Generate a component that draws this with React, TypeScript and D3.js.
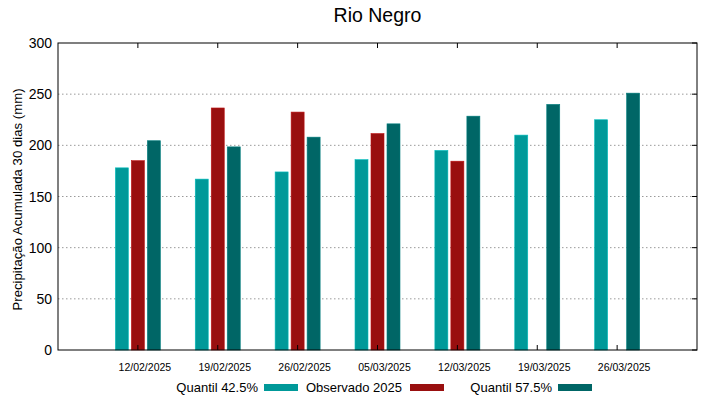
import React, { useEffect } from 'react';
import * as d3 from 'd3';

const dates = ['12/02/2025', '19/02/2025', '26/02/2025', '05/03/2025', '12/03/2025', '19/03/2025', '26/03/2025'];
const quantil425 = [178, 167, 174, 186, 195, 210, 225];
const observado = [185, 236.5, 232.5, 211.5, 184.5, null, null];
const quantil575 = [204.5, 198.5, 208, 221, 228.5, 240, 251];
const yTicks = [0, 50, 100, 150, 200, 250, 300];

const series = [
  { name: 'Quantil 42.5%', values: quantil425, color: '#009999', offset: -16 },
  { name: 'Observado 2025', values: observado, color: '#990f0f', offset: 0 },
  { name: 'Quantil 57.5%', values: quantil575, color: '#006666', offset: 16 },
];

const width = 719;
const height = 399;
const margin = { top: 43, right: 22, bottom: 49, left: 58 };
const font = '"Liberation Sans", Arial, sans-serif';

export default function App() {
  useEffect(() => {
    document.body.style.margin = '0';
  }, []);

  const innerW = width - margin.left - margin.right;
  const innerH = height - margin.top - margin.bottom;
  const xScale = d3.scaleLinear().domain([0, dates.length + 1]).range([0, innerW]);
  const yScale = d3.scaleLinear().domain([0, 300]).range([innerH, 0]);
  const barW = 13;

  // legend: where each label ends and its swatch starts
  const legendItems = [
    { textEnd: 258, swatch: 264 },
    { textEnd: 402, swatch: 410 },
    { textEnd: 552, swatch: 558 },
  ];

  return (
    <svg width={width} height={height} style={{ display: 'block', background: '#fff' }} fontFamily={font}>
      <text x={margin.left + innerW / 2} y={22} textAnchor="middle" fontSize={19.5} fill="#000">Rio Negro</text>
      <g transform={`translate(${margin.left},${margin.top})`}>
        {yTicks.filter((t) => t > 0 && t < 300).map((t) => (
          <line key={`g${t}`} x1={0} x2={innerW} y1={yScale(t)} y2={yScale(t)}
            stroke="#9a9a9a" strokeWidth={1} strokeDasharray="1.5,2.5" />
        ))}
        {series.map((s) => (
          <g key={s.name}>
            {s.values.map((v, i) => (v == null ? null : (
              <rect key={i}
                x={xScale(i + 1) + s.offset - barW / 2}
                y={yScale(v)}
                width={barW}
                height={innerH - yScale(v)}
                fill={s.color}
                stroke={d3.color(s.color)!.brighter(0.6).toString()}
                strokeWidth={0.6}
              />
            )))}
          </g>
        ))}
        {dates.map((d, i) => (
          <g key={d}>
            <line x1={xScale(i + 1)} x2={xScale(i + 1)} y1={0} y2={5} stroke="#000" />
            <line x1={xScale(i + 1)} x2={xScale(i + 1)} y1={innerH} y2={innerH - 5} stroke="#000" />
            <text x={xScale(i + 1) + 7} y={innerH + 21} textAnchor="middle" fontSize={10.5} fill="#000">{d}</text>
          </g>
        ))}
        {yTicks.map((t) => (
          <g key={t}>
            <line x1={innerW} x2={innerW - 5} y1={yScale(t)} y2={yScale(t)} stroke="#000" />
            <text x={-6} y={yScale(t) + 5} textAnchor="end" fontSize={14} fill="#000">{t}</text>
          </g>
        ))}
        <rect x={0} y={0} width={innerW} height={innerH} fill="none" stroke="#000" strokeWidth={1} />
      </g>
      <text transform={`translate(22,${margin.top + innerH / 2 + 3}) rotate(-90)`} textAnchor="middle" fontSize={13.2} fill="#000">
        Precipitação Acumulada 30 dias (mm)
      </text>
      {series.map((s, i) => (
        <g key={s.name}>
          <text x={legendItems[i].textEnd} y={392} textAnchor="end" fontSize={13} fill="#000">{s.name}</text>
          <rect x={legendItems[i].swatch} y={384} width={34} height={7} fill={s.color} />
        </g>
      ))}
    </svg>
  );
}
